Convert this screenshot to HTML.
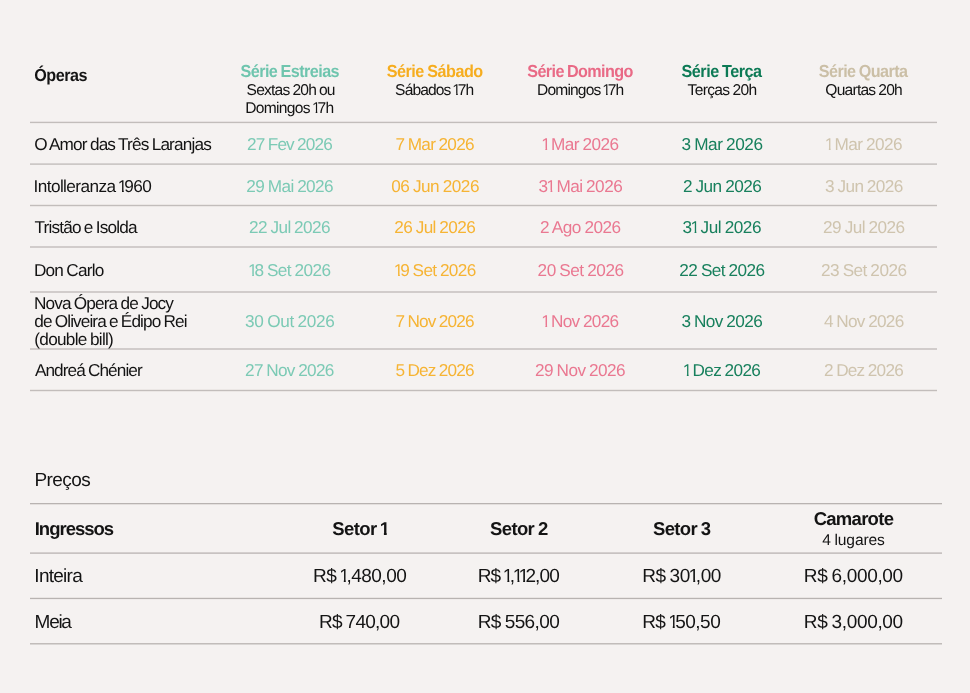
<!DOCTYPE html>
<html lang="pt"><head><meta charset="utf-8"><title>Temporada 2026 - Óperas e Preços</title>
<style>
html,body{margin:0;padding:0}
body{width:970px;height:693px;background:#f5f2f1;position:relative;overflow:hidden;font-family:"Liberation Sans",sans-serif;color:#141414}
#w{position:absolute;left:0;top:0;width:970px;height:693px;will-change:transform;text-rendering:geometricPrecision}
.t{position:absolute;white-space:nowrap;line-height:20px;height:20px;transform-origin:0 50%;word-spacing:-0.04em}
.b{font-weight:700}
.s15_6{font-size:15.6px;--d:6px}
.s17_2{font-size:17.2px;--d:4px}
.s17_4{font-size:17.4px;--d:4px}
.s18_5{font-size:18.5px;--d:4px}
.s19{font-size:19px;--d:5px}
.ce{color:#6fc5ae}
.cs{color:#f6ad1f}
.cd{color:#e96a86}
.ct{color:#0c7a55}
.cq{color:#cbbfa6}
.ce2{color:#7ccab5}
.cs2{color:#f6b434}
.cd2{color:#ea7891}
.cq2{color:#cfc4ae}
.ct2{color:#18805d}
svg{position:absolute;left:0;top:0}
.n,.nb{display:inline-block;text-indent:0}
.n{margin:0 -0.15em 0 -0.065em;clip-path:polygon(0 0,0.347em 0,0.347em 100%,0.244em 100%,0.244em calc(100% - var(--d) - 2px),0 calc(100% - var(--d) - 2px))}
.nb{margin:0 -0.13em 0 -0.04em;clip-path:polygon(0 0,0.378em 0,0.378em 100%,0.226em 100%,0.226em calc(100% - var(--d) - 2px),0 calc(100% - var(--d) - 2px))}
</style></head><body>
<svg width="970" height="693" viewBox="0 0 970 693">
<rect x="30" y="121.72" width="907" height="1.40" fill="#c2bdbb"/>
<rect x="30" y="163.40" width="907" height="1.40" fill="#c2bdbb"/>
<rect x="30" y="204.80" width="907" height="1.40" fill="#c2bdbb"/>
<rect x="30" y="246.30" width="907" height="1.40" fill="#c2bdbb"/>
<rect x="30" y="291.30" width="907" height="1.40" fill="#c2bdbb"/>
<rect x="30" y="348.30" width="907" height="1.40" fill="#c2bdbb"/>
<rect x="30" y="389.80" width="907" height="1.40" fill="#c2bdbb"/>
<rect x="30" y="503.00" width="912" height="1.30" fill="#b8b3b1"/>
<rect x="30" y="552.45" width="912" height="1.30" fill="#b8b3b1"/>
<rect x="30" y="597.80" width="912" height="1.30" fill="#b8b3b1"/>
<rect x="30" y="643.15" width="912" height="1.30" fill="#b8b3b1"/>
</svg>
<div id="w">
<div class="t s17_4 b" style="left:34px;top:65px;letter-spacing:-0.54px;transform:translateX(0.29px) scaleX(0.93)">Óperas</div>
<div class="t s17_4 b ce" style="left:240px;top:61px;letter-spacing:-0.6px;transform:translateX(0.48px) scaleX(0.93)">Série Estreias</div>
<div class="t s15_6" style="left:246.61px;top:81px;letter-spacing:-0.8px">Sextas 20h ou</div>
<div class="t s15_6" style="left:245.28px;top:99px;letter-spacing:-0.7px">Domingos <span class="n">1</span>7h</div>
<div class="t s17_4 b cs" style="left:386px;top:61px;letter-spacing:-0.52px;transform:translateX(0.68px) scaleX(0.93)">Série Sábado</div>
<div class="t s15_6" style="left:395.11px;top:81px;letter-spacing:-0.88px">Sábados <span class="n">1</span>7h</div>
<div class="t s17_4 b cd" style="left:527px;top:61px;letter-spacing:-0.66px;transform:translateX(0.28px) scaleX(0.93)">Série Domingo</div>
<div class="t s15_6" style="left:537.08px;top:81px;letter-spacing:-0.86px">Domingos <span class="n">1</span>7h</div>
<div class="t s17_4 b ct" style="left:681px;top:61px;letter-spacing:-0.54px;transform:translateX(0.58px) scaleX(0.93)">Série Terça</div>
<div class="t s15_6" style="left:687.54px;top:81px;letter-spacing:-0.66px">Terças 20h</div>
<div class="t s17_4 b cq" style="left:818px;top:61px;letter-spacing:-0.62px;transform:translateX(0.78px) scaleX(0.93)">Série Quarta</div>
<div class="t s15_6" style="left:825.36px;top:81px;letter-spacing:-0.78px">Quartas 20h</div>
<div class="t s17_2" style="left:34.15px;top:134px;letter-spacing:-0.84px">O Amor das Três Laranjas</div>
<div class="t s17_2" style="left:33.54px;top:176px;letter-spacing:-0.58px">Intolleranza <span class="n">1</span>960</div>
<div class="t s17_2" style="left:34.60px;top:217px;letter-spacing:-0.84px">Tristão e Isolda</div>
<div class="t s17_2" style="left:33.94px;top:260px;letter-spacing:-0.8px">Don Carlo</div>
<div class="t s17_2" style="left:33.94px;top:293px;letter-spacing:-0.86px">Nova Ópera de Jocy</div>
<div class="t s17_2" style="left:34.28px;top:311px;letter-spacing:-0.9px">de Oliveira e Édipo Rei</div>
<div class="t s17_2" style="left:34.30px;top:329px;letter-spacing:-0.72px">(double bill)</div>
<div class="t s17_2" style="left:34.92px;top:360px;letter-spacing:-0.92px">Andreá Chénier</div>
<div class="t s17_2 ce2" style="left:247.06px;top:134px;letter-spacing:-0.84px">27 Fev 2026</div>
<div class="t s17_2 ce2" style="left:246.36px;top:176px;letter-spacing:-0.6px">29 Mai 2026</div>
<div class="t s17_2 ce2" style="left:249.06px;top:217px;letter-spacing:-0.6px">22 Jul 2026</div>
<div class="t s17_2 ce2" style="left:249.08px;top:260px;letter-spacing:-0.56px"><span class="n">1</span>8 Set 2026</div>
<div class="t s17_2 ce2" style="left:245.12px;top:311px;letter-spacing:-0.36px">30 Out 2026</div>
<div class="t s17_2 ce2" style="left:245.06px;top:360px;letter-spacing:-0.68px">27 Nov 2026</div>
<div class="t s17_2 cs2" style="left:395.50px;top:134px;letter-spacing:-0.72px">7 Mar 2026</div>
<div class="t s17_2 cs2" style="left:391.21px;top:176px;letter-spacing:-0.5px">06 Jun 2026</div>
<div class="t s17_2 cs2" style="left:394.26px;top:217px;letter-spacing:-0.6px">26 Jul 2026</div>
<div class="t s17_2 cs2" style="left:394.98px;top:260px;letter-spacing:-0.64px"><span class="n">1</span>9 Set 2026</div>
<div class="t s17_2 cs2" style="left:395.50px;top:311px;letter-spacing:-0.84px">7 Nov 2026</div>
<div class="t s17_2 cs2" style="left:395.54px;top:360px;letter-spacing:-0.84px">5 Dez 2026</div>
<div class="t s17_2 cd2" style="left:542.28px;top:134px;letter-spacing:-0.56px"><span class="n">1</span> Mar 2026</div>
<div class="t s17_2 cd2" style="left:538.42px;top:176px;letter-spacing:-0.52px">3<span class="n">1</span> Mai 2026</div>
<div class="t s17_2 cd2" style="left:540.06px;top:217px;letter-spacing:-0.5px">2 Ago 2026</div>
<div class="t s17_2 cd2" style="left:537.56px;top:260px;letter-spacing:-0.48px">20 Set 2026</div>
<div class="t s17_2 cd2" style="left:542.28px;top:311px;letter-spacing:-0.66px"><span class="n">1</span> Nov 2026</div>
<div class="t s17_2 cd2" style="left:535.06px;top:360px;letter-spacing:-0.56px">29 Nov 2026</div>
<div class="t s17_2 ct2" style="left:681.42px;top:134px;letter-spacing:-0.44px">3 Mar 2026</div>
<div class="t s17_2 ct2" style="left:683.06px;top:176px;letter-spacing:-0.56px">2 Jun 2026</div>
<div class="t s17_2 ct2" style="left:682.42px;top:217px;letter-spacing:-0.48px">3<span class="n">1</span> Jul 2026</div>
<div class="t s17_2 ct2" style="left:679.36px;top:260px;letter-spacing:-0.56px">22 Set 2026</div>
<div class="t s17_2 ct2" style="left:681.42px;top:311px;letter-spacing:-0.58px">3 Nov 2026</div>
<div class="t s17_2 ct2" style="left:683.78px;top:360px;letter-spacing:-0.64px"><span class="n">1</span> Dez 2026</div>
<div class="t s17_2 cq2" style="left:825.78px;top:134px;letter-spacing:-0.56px"><span class="n">1</span> Mar 2026</div>
<div class="t s17_2 cq2" style="left:824.92px;top:176px;letter-spacing:-0.58px">3 Jun 2026</div>
<div class="t s17_2 cq2" style="left:823.06px;top:217px;letter-spacing:-0.54px">29 Jul 2026</div>
<div class="t s17_2 cq2" style="left:821.06px;top:260px;letter-spacing:-0.54px">23 Set 2026</div>
<div class="t s17_2 cq2" style="left:824.04px;top:311px;letter-spacing:-0.7px">4 Nov 2026</div>
<div class="t s17_2 cq2" style="left:824.06px;top:360px;letter-spacing:-0.76px">2 Dez 2026</div>
<div class="t s19" style="left:34.38px;top:471px;letter-spacing:-0.56px">Preços</div>
<div class="t s18_5 b" style="left:34.72px;top:519px;letter-spacing:-1px">Ingressos</div>
<div class="t s18_5 b" style="left:332.37px;top:519px;letter-spacing:-0.6px">Setor <span class="nb">1</span></div>
<div class="t s18_5 b" style="left:490.07px;top:519px;letter-spacing:-0.64px">Setor 2</div>
<div class="t s18_5 b" style="left:652.97px;top:519px;letter-spacing:-0.66px">Setor 3</div>
<div class="t s18_5 b" style="left:813.63px;top:509px;letter-spacing:-0.72px">Camarote</div>
<div class="t s15_6" style="left:822.30px;top:531px;letter-spacing:-0.12px">4 lugares</div>
<div class="t s19" style="left:34.37px;top:567px;letter-spacing:-0.74px">Inteira</div>
<div class="t s19" style="left:34.58px;top:613px;letter-spacing:-1.28px">Meia</div>
<div class="t s19" style="left:313.08px;top:567px;letter-spacing:-0.5px">R$ <span class="n">1</span>,480,00</div>
<div class="t s19" style="left:477.68px;top:567px;letter-spacing:-0.84px">R$ <span class="n">1</span>,<span class="n">1</span><span class="n">1</span>2,00</div>
<div class="t s19" style="left:642.18px;top:567px;letter-spacing:-0.46px">R$ 30<span class="n">1</span>,00</div>
<div class="t s19" style="left:803.78px;top:567px;letter-spacing:-0.34px">R$ 6,000,00</div>
<div class="t s19" style="left:318.98px;top:613px;letter-spacing:-0.74px">R$ 740,00</div>
<div class="t s19" style="left:477.68px;top:613px;letter-spacing:-0.6px">R$ 556,00</div>
<div class="t s19" style="left:642.18px;top:613px;letter-spacing:-0.54px">R$ <span class="n">1</span>50,50</div>
<div class="t s19" style="left:803.78px;top:613px;letter-spacing:-0.34px">R$ 3,000,00</div>
</div>
</body></html>
